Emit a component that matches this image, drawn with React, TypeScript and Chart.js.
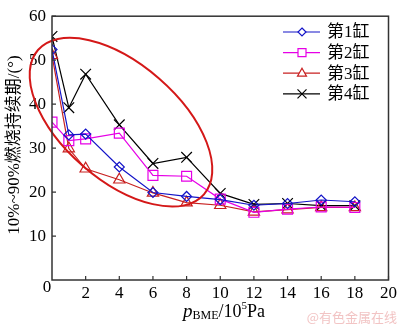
import React, { useEffect, useRef } from 'react';
import { Chart, registerables } from 'chart.js';

Chart.register(...registerables);

const xValues = [0, 1, 2, 4, 6, 8, 10, 12, 14, 16, 18];
const cyl1 = [52.4, 33.0, 33.2, 25.7, 19.9, 19.0, 18.3, 17.0, 17.4, 18.2, 17.8];
const cyl2 = [35.9, 31.7, 32.1, 33.4, 23.8, 23.6, 18.4, 15.4, 16.1, 16.6, 16.5];
const cyl3 = [51.1, 29.9, 25.3, 22.8, 19.8, 17.6, 17.0, 15.5, 16.0, 16.5, 16.5];
const cyl4 = [55.4, 39.2, 46.8, 35.3, 26.5, 27.9, 19.7, 17.2, 17.4, 16.9, 16.9];
const seriesNames = ['第1缸', '第2缸', '第3缸', '第4缸'];
const xTickValues = [2, 4, 6, 8, 10, 12, 14, 16, 18, 20];
const yTickValues = [10, 20, 30, 40, 50, 60];
const yTitle = '10%~90%燃烧持续期/(°)';
const watermark = '@有色金属在线';

const SERIF = "'Liberation Serif', 'Noto Sans CJK SC', serif";

const colors = ['#1414c8', '#e600e6', '#c82020', '#000000'];
const styles = ['rectRot', 'rect', 'triangle', 'crossRot'];
const radii = [5, 7, 6.5, 7.5];

function legendMarker(ctx: CanvasRenderingContext2D, style: string, x: number, y: number) {
  ctx.beginPath();
  if (style === 'rectRot') {
    ctx.moveTo(x, y - 4);
    ctx.lineTo(x + 4, y);
    ctx.lineTo(x, y + 4);
    ctx.lineTo(x - 4, y);
    ctx.closePath();
    ctx.fillStyle = '#fff';
    ctx.fill();
  } else if (style === 'rect') {
    ctx.rect(x - 4, y - 4, 8, 8);
    ctx.fillStyle = '#fff';
    ctx.fill();
  } else if (style === 'triangle') {
    ctx.moveTo(x, y - 5);
    ctx.lineTo(x + 4.5, y + 3);
    ctx.lineTo(x - 4.5, y + 3);
    ctx.closePath();
    ctx.fillStyle = '#fff';
    ctx.fill();
  } else {
    ctx.moveTo(x - 4.5, y - 4.5);
    ctx.lineTo(x + 4.5, y + 4.5);
    ctx.moveTo(x + 4.5, y - 4.5);
    ctx.lineTo(x - 4.5, y + 4.5);
  }
  ctx.stroke();
}

const extrasPlugin = {
  id: 'extras',
  afterDatasetsDraw(chart: any) {
    const ctx = chart.ctx;
    const { left, right, top, bottom } = chart.chartArea;
    const xs = chart.scales.x;
    const ys = chart.scales.y;
    ctx.save();
    // ellipse annotation
    const cx = xs.getPixelForValue(4.1);
    const cy = ys.getPixelForValue(35.9);
    ctx.beginPath();
    ctx.ellipse(cx, cy, 110, 58, (41 * Math.PI) / 180, 0, Math.PI * 2);
    ctx.strokeStyle = '#d41818';
    ctx.lineWidth = 2;
    ctx.stroke();

    // frame
    ctx.strokeStyle = '#333';
    ctx.lineWidth = 1.5;
    ctx.strokeRect(left, top, right - left, bottom - top);
    // inward ticks
    ctx.lineWidth = 1.2;
    ctx.beginPath();
    xTickValues.forEach((v) => {
      const px = xs.getPixelForValue(v);
      ctx.moveTo(px, bottom);
      ctx.lineTo(px, bottom - 4);
    });
    yTickValues.forEach((v) => {
      const py = ys.getPixelForValue(v);
      ctx.moveTo(left, py);
      ctx.lineTo(left + 4, py);
    });
    ctx.stroke();

    // origin label
    ctx.fillStyle = '#000';
    ctx.font = `17px ${SERIF}`;
    ctx.textAlign = 'center';
    ctx.textBaseline = 'middle';
    ctx.fillText('0', left - 5, bottom + 8);

    // legend
    const ds = chart.data.datasets;
    ds.forEach((d: any, i: number) => {
      const y = 32 + i * 20.6;
      ctx.strokeStyle = d.borderColor;
      ctx.lineWidth = 1.2;
      ctx.beginPath();
      ctx.moveTo(283, y);
      ctx.lineTo(320, y);
      ctx.stroke();
      legendMarker(ctx, d.pointStyle, 302, y);
      ctx.fillStyle = '#000';
      ctx.font = `17px ${SERIF}`;
      ctx.textAlign = 'left';
      ctx.textBaseline = 'middle';
      ctx.fillText(d.label, 327, y + 1);
    });

    // x title
    let x = 183;
    const base = 317;
    ctx.textAlign = 'left';
    ctx.textBaseline = 'alphabetic';
    ctx.fillStyle = '#000';
    ctx.font = `italic 19px ${SERIF}`;
    ctx.fillText('p', x, base);
    x += ctx.measureText('p').width;
    ctx.font = `12px ${SERIF}`;
    ctx.fillText('BME', x, base + 2);
    x += ctx.measureText('BME').width;
    ctx.font = `18px ${SERIF}`;
    ctx.fillText('/10', x, base);
    x += ctx.measureText('/10').width;
    ctx.font = `11px ${SERIF}`;
    ctx.fillText('5', x, base - 8);
    x += ctx.measureText('5').width;
    ctx.font = `18px ${SERIF}`;
    ctx.fillText('Pa', x, base);

    // y title
    ctx.save();
    ctx.translate(15, 145);
    ctx.rotate(-Math.PI / 2);
    ctx.font = `17px ${SERIF}`;
    ctx.textAlign = 'center';
    ctx.textBaseline = 'middle';
    ctx.fillText(yTitle, 0, 0);
    ctx.restore();

    // watermark
    ctx.font = `13px 'Noto Sans CJK SC', sans-serif`;
    ctx.fillStyle = '#f2c4c4';
    ctx.textAlign = 'right';
    ctx.textBaseline = 'middle';
    ctx.fillText(watermark, 397, 317);
    ctx.restore();
  },
};

export default function App() {
  const ref = useRef<HTMLCanvasElement>(null);
  useEffect(() => {
    if (!ref.current) return;
    const data = [cyl1, cyl2, cyl3, cyl4];
    const chart = new Chart(ref.current, {
      type: 'line',
      data: {
        datasets: data.map((vals, i) => ({
          label: seriesNames[i],
          data: xValues.map((x, j) => ({ x, y: vals[j] })),
          borderColor: colors[i],
          backgroundColor: 'rgba(255,255,255,0)',
          pointBackgroundColor: 'rgba(255,255,255,0)',
          pointBorderColor: colors[i],
          pointStyle: styles[i] as any,
          pointRadius: radii[i],
          pointBorderWidth: 1.2,
          borderWidth: 1.2,
          tension: 0,
          fill: false,
        })),
      },
      options: {
        animation: false,
        responsive: false,
        devicePixelRatio: 1,
        layout: { padding: { left: 0, top: 7, right: 8, bottom: 0 } },
        plugins: { legend: { display: false }, tooltip: { enabled: false } },
        scales: {
          x: {
            type: 'linear',
            min: 0,
            max: 20,
            afterFit: (s: any) => {
              s.height = 46;
            },
            afterBuildTicks: (s: any) => {
              s.ticks = xTickValues.map((v) => ({ value: v }));
            },
            ticks: {
              font: { family: SERIF, size: 17 },
              color: '#000',
              padding: 3,
              maxRotation: 0,
              autoSkip: false,
            },
            grid: { display: false, drawTicks: false },
            border: { display: false },
          },
          y: {
            type: 'linear',
            min: 0,
            max: 60,
            afterFit: (s: any) => {
              s.width = 52;
            },
            afterBuildTicks: (s: any) => {
              s.ticks = yTickValues.map((v) => ({ value: v }));
            },
            ticks: {
              font: { family: SERIF, size: 17 },
              color: '#000',
              padding: 6,
              autoSkip: false,
            },
            grid: { display: false, drawTicks: false },
            border: { display: false },
          },
        },
      },
      plugins: [extrasPlugin],
    });
    return () => chart.destroy();
  }, []);
  return (
    <div style={{ position: 'fixed', left: 0, top: 0, width: 400, height: 326, background: '#fff' }}>
      <canvas ref={ref} width={400} height={326} style={{ width: 400, height: 326 }} />
    </div>
  );
}
